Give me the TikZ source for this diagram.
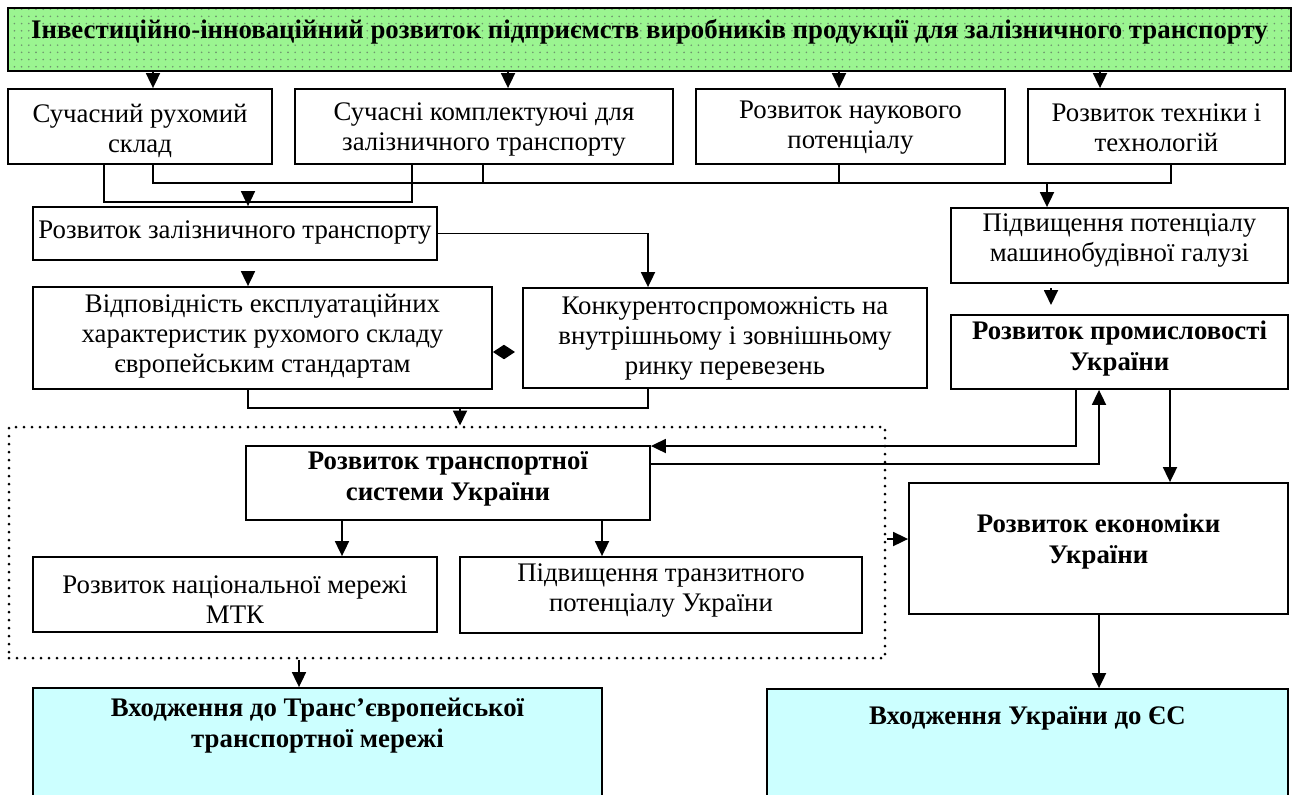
\documentclass[tikz,border=0pt]{standalone}
\usepackage{fontspec}
\setmainfont{Liberation Serif}
\usetikzlibrary{arrows.meta,patterns.meta}
\definecolor{bannergreen}{RGB}{155,245,145}
\definecolor{bannerdot}{RGB}{110,150,110}
\definecolor{lightcyan}{RGB}{204,255,255}
\newcommand\mybox[9]{%
  \node[box,#2,minimum width={(#6-#4)*0.5pt},minimum height={(#7-#5)*0.5pt}] (#1) at ({(#4+#6)/2},{(#5+#7)/2}) {};
  \node[#3] (#1-t) at ({(#4+#6)/2},#8) {#9};}
\begin{document}
\begin{tikzpicture}[x=0.5pt,y=-0.5pt,
  box/.style={draw, line width=0.9pt, inner sep=0pt, rectangle, fill=white},
  txt/.style={align=center, inner sep=0pt, font=\fontsize{13.4}{15}\selectfont},
  btxt/.style={align=center, inner sep=0pt, font=\fontsize{13.4}{15.5}\selectfont\bfseries},
  con/.style={line width=0.9pt},
  arr/.style={con, -{Triangle[length=7.5pt,width=7pt]}},
  dbl/.style={con, {Triangle[length=5.5pt,width=7pt]}-{Triangle[length=5.5pt,width=7pt]}},
  dotbox/.style={draw, line width=1.5pt, dash pattern=on 0pt off 4pt, line cap=round, inner sep=0pt, rectangle},
  banner/.style={preaction={fill=bannergreen}, pattern={Dots[distance=3.6pt,radius=0.45pt]}, pattern color=bannerdot},
  cyanbox/.style={fill=lightcyan}]
\useasboundingbox (0,0) rectangle (1296,794);
\clip (0,0) rectangle (1296,794);
% column / row helper coordinates
\foreach \k in {104,153,248,299,342,412,460,483,508,602,648,839,1047,1076,1099,1100,1170,1171}{\coordinate (k\k) at (\k,0);}
\foreach \r in {183,202,408,446,464,539,352}{\coordinate (r\r) at (0,\r);}
% dotted frame
\node[dotbox, minimum width={(885-9)*0.5pt}, minimum height={(658-427)*0.5pt}] (dbox) at ({(9+885)/2},{(427+658)/2}) {};
% boxes
\mybox{ban}{banner}{btxt}{8}{8}{1291}{71}{32}{Інвестиційно-інноваційний розвиток підприємств виробників продукції для залізничного транспорту}
\mybox{b1}{}{txt}{8}{89}{272}{164}{131}{Сучасний рухомий\\склад}
\mybox{b2}{}{txt}{295}{89}{673}{164}{130}{Сучасні комплектуючі для\\залізничного транспорту}
\mybox{b3}{}{txt}{696}{89}{1005}{164}{128}{Розвиток наукового\\потенціалу}
\mybox{b4}{}{txt}{1028}{89}{1285}{164}{128}{Розвиток техніки і\\технологій}
\mybox{rzt}{}{txt}{33}{207}{437}{260}{233}{Розвиток залізничного транспорту}
\mybox{ppm}{}{txt}{951}{208}{1288}{283}{241}{Підвищення потенціалу\\машинобудівної галузі}
\mybox{vid}{}{txt}{33}{287}{492}{389}{336}{Відповідність експлуатаційних\\характеристик рухомого складу\\європейським стандартам}
\mybox{kon}{}{txt}{523}{288}{927}{388}{339}{Конкурентоспроможність на\\внутрішньому і зовнішньому\\ринку перевезень}
\mybox{rpu}{}{btxt}{951}{315}{1288}{389}{349}{Розвиток промисловості\\України}
\mybox{rts}{}{btxt}{246}{446}{650}{520}{479}{Розвиток транспортної\\системи України}
\mybox{mtk}{}{txt}{33}{557}{437}{632}{600}{Розвиток національної мережі\\МТК}
\mybox{tr}{}{txt}{460}{557}{862}{633}{591}{Підвищення транзитного\\потенціалу України}
\mybox{reu}{}{btxt}{909}{483}{1288}{614}{542}{Розвиток економіки\\України}
\mybox{bl}{cyanbox}{btxt}{33}{688}{602}{900}{726}{Входження до Транс’європейської\\транспортної мережі}
\mybox{br}{cyanbox}{btxt}{767}{689}{1288}{900}{718}{Входження України до ЄС}
% free arrow ends
\coordinate (a8s) at (248,272);
\coordinate (a20s) at (1051,288);
\coordinate (a20e) at (1051,305);
\coordinate (dble) at (515,352);
% connectors
\draw[arr] (ban.south -| k153) -- (b1.north -| k153);
\draw[arr] (ban.south -| k508) -- (b2.north -| k508);
\draw[arr] (ban.south -| k839) -- (b3.north -| k839);
\draw[arr] (ban.south -| k1100) -- (b4.north -| k1100);
\draw[con] (b1.south -| k104) -- (k104 |- r202) -- (k412 |- r202) -- (b2.south -| k412);
\draw[arr] (k248 |- r202) -- (rzt.north -| k248);
\draw[con] (b1.south -| k153) -- (k153 |- r183) -- (k1171 |- r183) -- (b4.south -| k1171);
\draw[con] (b2.south -| k483) -- (k483 |- r183);
\draw[con] (b3.south -| k839) -- (k839 |- r183);
\draw[arr] (k1047 |- r183) -- (ppm.north -| k1047);
\draw[arr] (rzt.east) -| (kon.north -| k648);
\draw[arr] (a8s) -- (vid.north -| k248);
\draw[dbl] (vid.east |- dble) -- (dble);
\draw[con] (vid.south -| k248) -- (k248 |- r408) -- (k648 |- r408) -- (kon.south -| k648);
\draw[arr] (k460 |- r408) -- (dbox.north -| k460);
\draw[arr] (a20s) -- (a20e);
\draw[arr] (rpu.south -| k1076) |- (rts.east |- r446);
\draw[arr] (rts.east |- r464) -| (rpu.south -| k1099);
\draw[arr] (rpu.south -| k1170) -- (reu.north -| k1170);
\draw[arr] (dbox.east |- r539) -- (reu.west |- r539);
\draw[arr] (rts.south -| k342) -- (mtk.north -| k342);
\draw[arr] (rts.south -| k602) -- (tr.north -| k602);
\draw[arr] (dbox.south -| k299) -- (bl.north -| k299);
\draw[arr] (reu.south -| k1099) -- (br.north -| k1099);
\end{tikzpicture}
\end{document}
